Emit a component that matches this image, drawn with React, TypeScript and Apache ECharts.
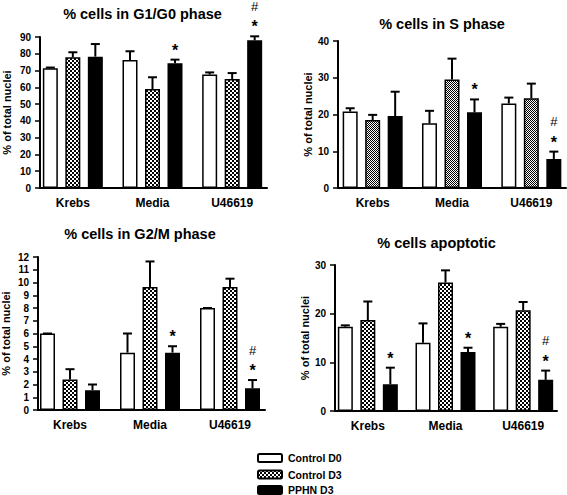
import React, { useEffect, useRef } from "react";
import * as echarts from "echarts";

const categories = ["Krebs", "Media", "U46619"];
const groupNames = ["Control D0", "Control D3", "PPHN D3"];

// % cells in G1/G0 phase (mean and mean+SEM)
const g1Control0 = [71.4, 76.3, 67.6];
const g1Control0Upper = [71.8, 81.5, 68.9];
const g1Control3 = [77.9, 59.0, 65.0];
const g1Control3Upper = [80.9, 66.0, 68.5];
const g1Pphn = [78.3, 74.3, 88.0];
const g1PphnUpper = [85.8, 76.5, 90.4];
const g1Sig = ["", "*", "#*"];

// % cells in S phase
const sControl0 = [20.8, 17.6, 23.0];
const sControl0Upper = [21.7, 21.0, 24.6];
const sControl3 = [18.5, 29.5, 24.4];
const sControl3Upper = [19.9, 35.2, 28.4];
const sPphn = [19.6, 20.6, 7.9];
const sPphnUpper = [26.2, 24.1, 9.9];
const sSig = ["", "*", "#*"];

// % cells in G2/M phase
const g2Control0 = [6.0, 4.5, 8.0];
const g2Control0Upper = [6.0, 6.0, 8.0];
const g2Control3 = [2.4, 9.65, 9.65];
const g2Control3Upper = [3.2, 11.65, 10.3];
const g2Pphn = [1.55, 4.5, 1.7];
const g2PphnUpper = [2.0, 5.0, 2.35];
const g2Sig = ["", "*", "#*"];

// % cells apoptotic
const apControl0 = [17.3, 14.0, 17.3];
const apControl0Upper = [17.6, 18.0, 17.9];
const apControl3 = [18.7, 26.4, 20.7];
const apControl3Upper = [22.5, 28.9, 22.4];
const apPphn = [5.5, 12.1, 6.4];
const apPphnUpper = [8.9, 13.0, 8.3];
const apSig = ["*", "*", "#*"];

const yTitle = "% of total nuclei";
const FONT = "'Liberation Sans', Arial, Helvetica, sans-serif";

const BAR_W = 15;
const BAR_STEP = 22.5;

function makeChecker(cell: number) {
  const c = document.createElement("canvas");
  c.width = cell * 2;
  c.height = cell * 2;
  const ctx = c.getContext("2d")!;
  ctx.fillStyle = "#ffffff";
  ctx.fillRect(0, 0, cell * 2, cell * 2);
  ctx.fillStyle = "#000000";
  ctx.fillRect(0, 0, cell, cell);
  ctx.fillRect(cell, cell, cell, cell);
  return c;
}

export default function App() {
  const ref = useRef<HTMLDivElement>(null);

  useEffect(() => {
    if (!ref.current) return;
    const chart = echarts.init(ref.current, undefined, { renderer: "svg" });

    const checker = { image: makeChecker(2), repeat: "repeat" } as any;
    const checkerFine = { image: makeChecker(1), repeat: "repeat" } as any;

    const panels = [
      {
        title: "% cells in G1/G0 phase", tx: 142.5, ty: 14,
        means: [g1Control0, g1Control3, g1Pphn],
        uppers: [g1Control0Upper, g1Control3Upper, g1PphnUpper],
        sig: g1Sig, max: 90, interval: 10,
        box: { left: 40, top: 37, width: 227, height: 151 },
        bars: { left: 33, width: 239 }, nameGap: 28, pattern: checker,
      },
      {
        title: "% cells in S phase", tx: 442, ty: 24,
        means: [sControl0, sControl3, sPphn],
        uppers: [sControl0Upper, sControl3Upper, sPphnUpper],
        sig: sSig, max: 40, interval: 10,
        box: { left: 338, top: 41, width: 228, height: 147 },
        bars: { left: 333, width: 238 }, nameGap: 25, pattern: checkerFine,
      },
      {
        title: "% cells in G2/M phase", tx: 140, ty: 234,
        means: [g2Control0, g2Control3, g2Pphn],
        uppers: [g2Control0Upper, g2Control3Upper, g2PphnUpper],
        sig: g2Sig, max: 12, interval: 1,
        box: { left: 38, top: 257, width: 227, height: 153 },
        bars: { left: 30, width: 240 }, nameGap: 27, pattern: checker,
      },
      {
        title: "% cells apoptotic", tx: 436.5, ty: 243,
        means: [apControl0, apControl3, apPphn],
        uppers: [apControl0Upper, apControl3Upper, apPphnUpper],
        sig: apSig, max: 30, interval: 10,
        box: { left: 335, top: 265, width: 222, height: 146 },
        bars: { left: 329, width: 233 }, nameGap: 22, pattern: checker,
      },
    ];

    const grid: any[] = [];
    const xAxis: any[] = [];
    const yAxis: any[] = [];
    const series: any[] = [];
    const graphic: any[] = [];

    panels.forEach((p, i) => {
      const ga = 2 * i;
      const gb = 2 * i + 1;
      grid.push({ ...p.box, containLabel: false, outerBoundsMode: "none" });
      grid.push({
        left: p.bars.left, width: p.bars.width, top: p.box.top, height: p.box.height,
        containLabel: false, outerBoundsMode: "none",
      });
      xAxis.push({
        type: "value", gridIndex: ga, min: 0, max: 1,
        axisLine: { show: true, onZero: false, lineStyle: { color: "#000", width: 2 } },
        axisTick: { show: false }, axisLabel: { show: false }, splitLine: { show: false },
      });
      xAxis.push({
        type: "category", gridIndex: gb, data: categories,
        axisLine: { show: false }, axisTick: { show: false }, splitLine: { show: false },
        axisLabel: { color: "#000", fontSize: 12, fontWeight: "bold", fontFamily: FONT, margin: 9 },
      });
      yAxis.push({
        type: "value", gridIndex: ga, min: 0, max: p.max, interval: p.interval,
        name: yTitle, nameLocation: "middle", nameGap: p.nameGap,
        nameTextStyle: { color: "#000", fontSize: 11, fontWeight: "bold", fontFamily: FONT },
        axisLine: { show: true, onZero: false, lineStyle: { color: "#000", width: 2 } },
        axisTick: { show: true, length: 5, lineStyle: { color: "#000", width: 1.5 } },
        axisLabel: { color: "#000", fontSize: 10, fontWeight: "bold", fontFamily: FONT, margin: 9 },
        splitLine: { show: false },
      });
      yAxis.push({ type: "value", gridIndex: gb, min: 0, max: p.max, show: false, splitLine: { show: false } });

      const fills = ["#ffffff", p.pattern, "#000000"];
      groupNames.forEach((name, k) => {
        series.push({
          type: "bar", name, xAxisIndex: gb, yAxisIndex: gb,
          data: p.means[k], barWidth: BAR_W, barGap: "50%", z: 2,
          itemStyle: { color: fills[k], borderColor: "#000", borderWidth: 1.5 },
        });
      });

      const errData: number[][] = [];
      groupNames.forEach((_, k) => {
        categories.forEach((_c, c) => {
          errData.push([c, p.means[k][c], p.uppers[k][c], k]);
        });
      });
      series.push({
        type: "custom", name: "err" + i, xAxisIndex: gb, yAxisIndex: gb, z: 3,
        data: errData, clip: false,
        renderItem: (_params: any, api: any) => {
          const c = api.value(0), v = api.value(1), u = api.value(2), k = api.value(3);
          const base = api.coord([c, v]);
          const top = api.coord([c, u]);
          const x = base[0] + (k - 1) * BAR_STEP;
          const st = { stroke: "#000", lineWidth: 2 };
          return {
            type: "group",
            children: [
              { type: "line", shape: { x1: x, y1: base[1], x2: x, y2: top[1] }, style: st },
              { type: "line", shape: { x1: x - 4.5, y1: top[1], x2: x + 4.5, y2: top[1] }, style: st },
            ],
          };
        },
      });

      const sigData: any[] = [];
      categories.forEach((_c, c) => {
        if (p.sig[c]) sigData.push([c, p.uppers[2][c], p.sig[c].includes("#") ? 1 : 0]);
      });
      series.push({
        type: "custom", name: "sig" + i, xAxisIndex: gb, yAxisIndex: gb, z: 4,
        data: sigData, clip: false,
        renderItem: (_params: any, api: any) => {
          const c = api.value(0), u = api.value(1), hasHash = api.value(2);
          const pt = api.coord([c, u]);
          const x = pt[0] + BAR_STEP;
          const children: any[] = [
            {
              type: "text", x, y: pt[1] - 9.5,
              style: {
                text: "*", fontSize: 16, fontWeight: "bold", fontFamily: FONT, fill: "#000",
                align: "center", verticalAlign: "middle",
              },
            },
          ];
          if (hasHash) {
            children.push({
              type: "text", x, y: pt[1] - 30,
              style: {
                text: "#", fontSize: 13, fontFamily: FONT, fill: "#000",
                align: "center", verticalAlign: "middle",
              },
            });
          }
          return { type: "group", children };
        },
      });

      graphic.push({
        type: "text", x: p.tx, y: p.ty,
        style: {
          text: p.title, fontSize: 14.5, fontWeight: "bold", fontFamily: FONT, fill: "#000",
          align: "center", verticalAlign: "middle", textAlign: "center", textVerticalAlign: "middle",
        },
      });
    });

    // legend (drawn as graphic so it fits in the bottom strip)
    const legendFills = ["#ffffff", checker, "#000000"];
    const legendRows = [458, 474.5, 490];
    groupNames.forEach((name, k) => {
      graphic.push({
        type: "rect",
        shape: { x: 258, y: legendRows[k] - 4, width: 24, height: 8, r: 1.5 },
        style: { fill: legendFills[k], stroke: "#000", lineWidth: 2 },
      });
      graphic.push({
        type: "text", x: 288, y: legendRows[k],
        style: {
          text: name, fontSize: 10.5, fontWeight: "bold", fontFamily: FONT, fill: "#000",
          align: "left", verticalAlign: "middle", textAlign: "left", textVerticalAlign: "middle",
        },
      });
    });

    chart.setOption({
      animation: false,
      backgroundColor: "#ffffff",
      textStyle: { fontFamily: FONT },
      grid, xAxis, yAxis, series, graphic,
    });

    return () => chart.dispose();
  }, []);

  return (
    <div
      ref={ref}
      style={{ position: "fixed", left: 0, top: 0, width: 567, height: 495, background: "#fff" }}
    />
  );
}
